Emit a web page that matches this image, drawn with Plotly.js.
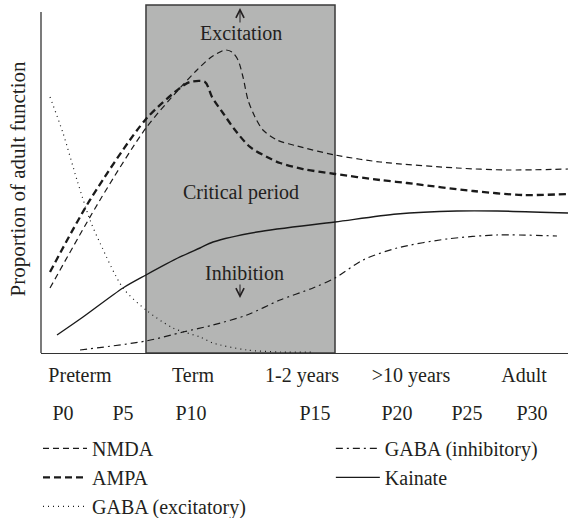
<!DOCTYPE html>
<html>
<head>
<meta charset="utf-8">
<script src="https://cdn.plot.ly/plotly-3.0.1.min.js"></script>
<style>html,body{margin:0;padding:0;background:#fff;}#chart{width:568px;height:518px;}</style>
</head>
<body>
<div id="chart"></div>
<script>
// Development stage (arbitrary age scale 0-100) and proportion of adult function (0-100)
const nmdaX = [1.71, 11.20, 19.92, 26.38, 29.60, 32.07, 34.91, 36.24, 37.38, 38.33, 39.28, 40.61, 42.12, 44.78, 48.58, 55.79, 64.33, 78.94, 88.42, 100];
const nmdaY = [18.68, 43.97, 64.66, 76.15, 81.32, 84.77, 87.07, 86.49, 84.20, 79.31, 72.70, 67.82, 64.08, 61.21, 59.48, 56.90, 54.89, 53.16, 52.59, 52.87];

const ampaX = [1.71, 9.30, 19.92, 26.38, 28.27, 31.12, 32.45, 34.53, 36.81, 39.66, 42.88, 45.35, 49.71, 55.79, 64.33, 69.45, 81.97, 91.46, 100];
const ampaY = [23.28, 43.97, 67.24, 76.15, 77.87, 77.87, 73.56, 68.97, 64.08, 59.20, 56.32, 54.60, 52.87, 51.44, 49.71, 48.85, 46.55, 45.40, 45.69];

const gabaExcX = [1.71, 4.17, 6.83, 9.30, 11.20, 15.56, 19.92, 25.05, 30.17, 32.64, 39.09, 45.35, 51.99];
const gabaExcY = [73.56, 63.22, 49.71, 38.22, 31.61, 18.68, 12.36, 7.18, 4.60, 2.87, 0.86, 0.29, 0.29];

const gabaInhX = [7.40, 19.92, 26.94, 32.64, 39.09, 45.35, 51.61, 55.79, 61.10, 67.55, 77.04, 86.53, 97.91];
const gabaInhY = [0.86, 3.45, 6.03, 8.05, 10.92, 15.23, 18.68, 21.55, 26.72, 30.17, 32.76, 33.91, 33.62];

const kainateX = [3.04, 7.97, 15.56, 19.92, 26.38, 30.17, 32.64, 40.99, 55.79, 67.55, 78.94, 86.53, 100];
const kainateY = [5.17, 10.34, 18.68, 22.41, 27.59, 30.17, 31.90, 34.77, 37.64, 39.94, 40.80, 40.80, 40.23];

const criticalPeriod = [19.92, 55.79];

const stageVals = [7.40, 28.84, 49.53, 70.21, 91.65];
const stageLabels = ['Preterm', 'Term', '1-2 years', '>10 years', 'Adult'];
const dayVals = [4.17, 15.56, 28.46, 51.99, 67.55, 80.83, 93.17];
const dayLabels = ['P0', 'P5', 'P10', 'P15', 'P20', 'P25', 'P30'];

const FONT = 'Liberation Serif, Times New Roman, serif';
const TXT = '#231f20';
const INK = '#1a1a1a';

function line(name, x, y, width, dash, legend) {
  return {x: x, y: y, name: name, type: 'scatter', mode: 'lines', legend: legend,
    line: {color: INK, width: width, dash: dash, shape: 'spline', smoothing: 0.8},
    hoverinfo: 'skip'};
}

const traces = [
  line('NMDA', nmdaX, nmdaY, 1.2, '6px,4px', 'legend'),
  line('AMPA', ampaX, ampaY, 2.3, '7px,4px', 'legend'),
  line('GABA (excitatory)', gabaExcX, gabaExcY, 1.2, '1px,4px', 'legend'),
  line('GABA (inhibitory)', gabaInhX, gabaInhY, 1.2, '7px,4px,2px,4px', 'legend2'),
  line('Kainate', kainateX, kainateY, 1.4, 'solid', 'legend2'),
  {x: [0, 100], y: [null, null], xaxis: 'x2', yaxis: 'y', type: 'scatter', mode: 'lines', showlegend: false, hoverinfo: 'skip'}
];

const legendBase = {orientation: 'v', xanchor: 'left', y: -0.218, yanchor: 'top',
  itemwidth: 44, tracegroupgap: 0, traceorder: 'normal',
  font: {family: FONT, size: 20, color: TXT}, bgcolor: 'rgba(0,0,0,0)'};

const layout = {
  width: 568, height: 518,
  margin: {l: 41, r: 0, t: 5, b: 165, autoexpand: false},
  paper_bgcolor: '#fff', plot_bgcolor: 'rgba(0,0,0,0)',
  font: {family: FONT, size: 20, color: TXT},
  showlegend: true,
  xaxis: {range: [0, 100], showgrid: false, zeroline: false, showline: true, linecolor: '#333', linewidth: 1.3,
    ticks: '', tickmode: 'array', tickvals: stageVals, ticktext: stageLabels,
    tickfont: {family: FONT, size: 20, color: TXT}, ticklabelstandoff: 4, fixedrange: true},
  xaxis2: {range: [0, 100], overlaying: 'x', anchor: 'y', side: 'bottom', showgrid: false, zeroline: false, showline: false,
    ticks: '', tickmode: 'array', tickvals: dayVals, ticktext: dayLabels,
    tickfont: {family: FONT, size: 20, color: TXT}, ticklabelstandoff: 46, fixedrange: true},
  yaxis: {range: [0, 100], showgrid: false, zeroline: false, showline: false, showticklabels: false, ticks: '',
    title: {text: 'Proportion of adult function', font: {family: FONT, size: 21, color: TXT}, standoff: 8}, fixedrange: true},
  shapes: [
    {type: 'rect', xref: 'x', yref: 'paper', x0: criticalPeriod[0], x1: criticalPeriod[1], y0: 0, y1: 1,
      fillcolor: '#b4b5b4', line: {color: '#3a3a3a', width: 1.5}, layer: 'below'},
    {type: 'line', xref: 'paper', yref: 'paper', x0: 0, x1: 0, y0: 0, y1: 0.98,
      line: {color: '#333', width: 1.3}, layer: 'above'}
  ],
  annotations: [
    {x: 37.76, y: 99.14, xref: 'x', yref: 'y', text: '', showarrow: true, ax: 0, ay: 16,
      arrowhead: 5, arrowsize: 1.6, arrowwidth: 1, arrowcolor: TXT, standoff: 0},
    {x: 37.95, y: 91.96, xref: 'x', yref: 'y', text: 'Excitation', showarrow: false, font: {family: FONT, size: 20, color: TXT}},
    {x: 37.95, y: 45.98, xref: 'x', yref: 'y', text: 'Critical period', showarrow: false, font: {family: FONT, size: 20, color: TXT}},
    {x: 38.52, y: 22.99, xref: 'x', yref: 'y', text: 'Inhibition', showarrow: false, font: {family: FONT, size: 20, color: TXT}},
    {x: 37.76, y: 15.80, xref: 'x', yref: 'y', text: '', showarrow: true, ax: 0, ay: -15,
      arrowhead: 5, arrowsize: 1.6, arrowwidth: 1, arrowcolor: TXT, standoff: 0}
  ],
  legend: Object.assign({}, legendBase, {x: -0.0057}),
  legend2: Object.assign({}, legendBase, {x: 0.55})
};

Plotly.newPlot('chart', traces, layout, {displayModeBar: false, staticPlot: true});
</script>
</body>
</html>
